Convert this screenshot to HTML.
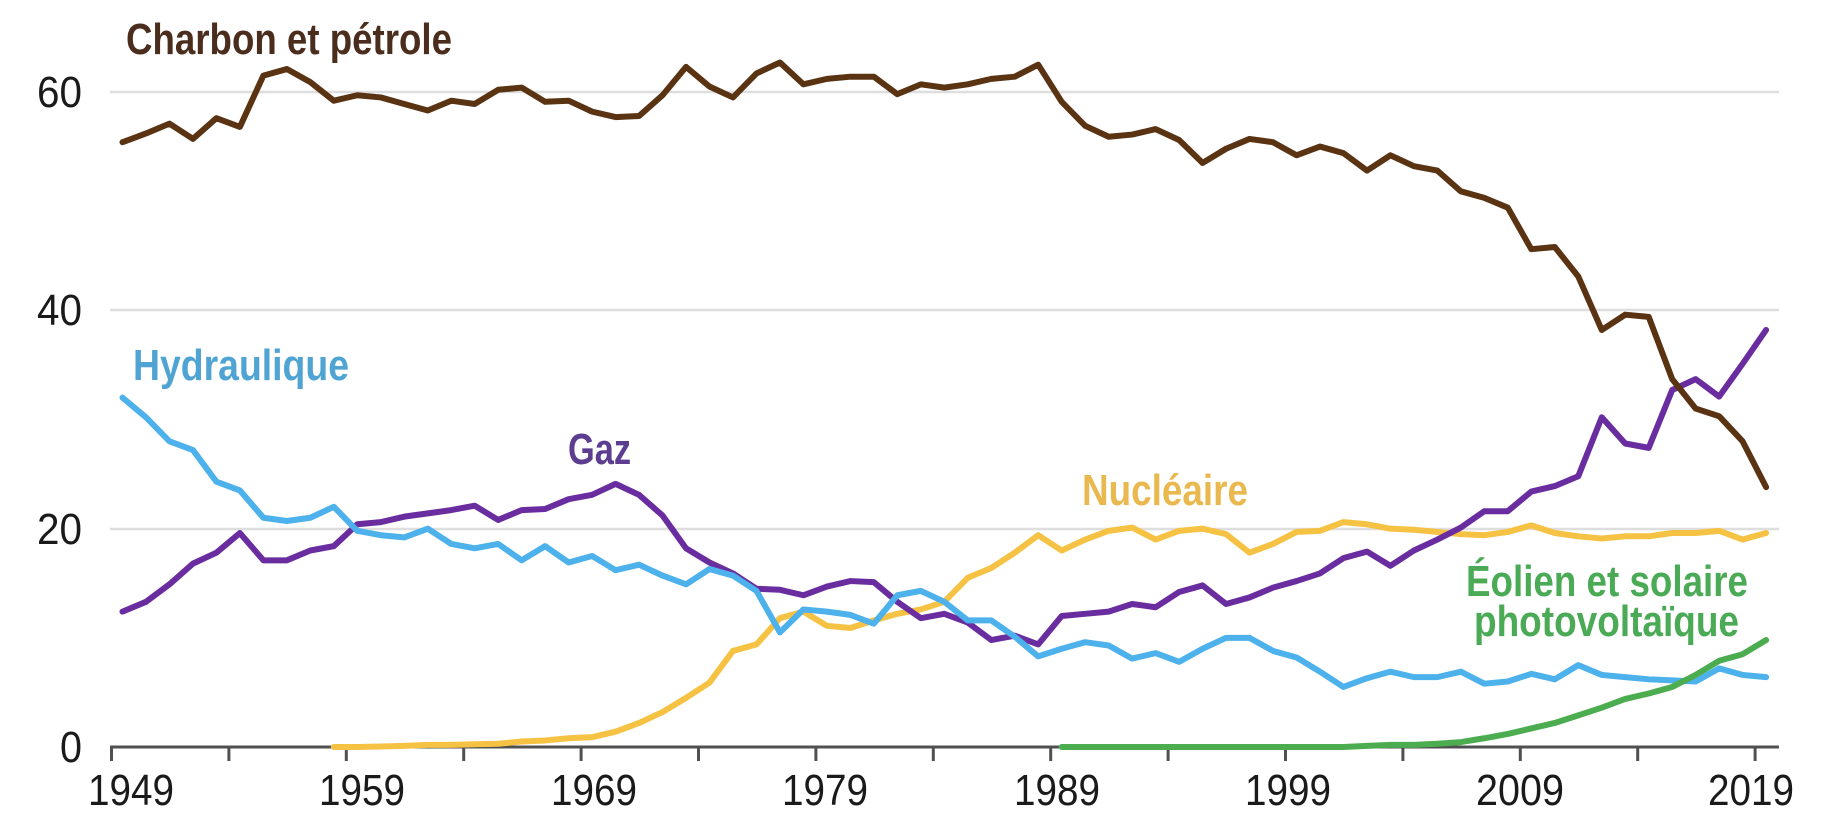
<!DOCTYPE html>
<html>
<head>
<meta charset="utf-8">
<style>
  html, body { margin: 0; padding: 0; background: #ffffff; }
  body { width: 1838px; height: 834px; overflow: hidden; }
  svg { display: block; }
  .lab { font-family: "Liberation Sans", sans-serif; font-weight: bold; font-size: 44px; }
  .ax { font-family: "Liberation Sans", sans-serif; font-size: 44px; fill: #1a1a1a; }
</style>
</head>
<body>
<svg width="1838" height="834" viewBox="0 0 1838 834" xmlns="http://www.w3.org/2000/svg">
  <rect x="0" y="0" width="1838" height="834" fill="#ffffff"/>

  <!-- gridlines -->
  <g stroke="#dedede" stroke-width="2.5">
    <line x1="110" y1="92" x2="1779" y2="92"/>
    <line x1="110" y1="310" x2="1779" y2="310"/>
    <line x1="110" y1="529" x2="1779" y2="529"/>
  </g>

  <!-- y labels -->
  <text class="ax" x="82" y="107" text-anchor="end" textLength="45" lengthAdjust="spacingAndGlyphs">60</text>
  <text class="ax" x="82" y="325" text-anchor="end" textLength="45" lengthAdjust="spacingAndGlyphs">40</text>
  <text class="ax" x="82" y="544" text-anchor="end" textLength="45" lengthAdjust="spacingAndGlyphs">20</text>
  <text class="ax" x="82" y="762" text-anchor="end" textLength="22" lengthAdjust="spacingAndGlyphs">0</text>

  <!-- x axis -->
  <line x1="110" y1="747" x2="1779" y2="747" stroke="#505050" stroke-width="3"/>
  <g stroke="#505050" stroke-width="3">
    <line x1="111.5" y1="747" x2="111.5" y2="761"/>
    <line x1="228.9" y1="747" x2="228.9" y2="761"/>
    <line x1="346.3" y1="747" x2="346.3" y2="761"/>
    <line x1="463.7" y1="747" x2="463.7" y2="761"/>
    <line x1="581.1" y1="747" x2="581.1" y2="761"/>
    <line x1="698.5" y1="747" x2="698.5" y2="761"/>
    <line x1="815.9" y1="747" x2="815.9" y2="761"/>
    <line x1="933.3" y1="747" x2="933.3" y2="761"/>
    <line x1="1050.7" y1="747" x2="1050.7" y2="761"/>
    <line x1="1168.1" y1="747" x2="1168.1" y2="761"/>
    <line x1="1285.5" y1="747" x2="1285.5" y2="761"/>
    <line x1="1402.9" y1="747" x2="1402.9" y2="761"/>
    <line x1="1520.3" y1="747" x2="1520.3" y2="761"/>
    <line x1="1637.7" y1="747" x2="1637.7" y2="761"/>
    <line x1="1755.1" y1="747" x2="1755.1" y2="761"/>
  </g>

  <!-- x labels -->
  <g class="ax" text-anchor="middle">
    <text x="131" y="805" textLength="86" lengthAdjust="spacingAndGlyphs">1949</text>
    <text x="362" y="805" textLength="86" lengthAdjust="spacingAndGlyphs">1959</text>
    <text x="594" y="805" textLength="86" lengthAdjust="spacingAndGlyphs">1969</text>
    <text x="825" y="805" textLength="86" lengthAdjust="spacingAndGlyphs">1979</text>
    <text x="1057" y="805" textLength="86" lengthAdjust="spacingAndGlyphs">1989</text>
    <text x="1288" y="805" textLength="86" lengthAdjust="spacingAndGlyphs">1999</text>
    <text x="1520" y="805" textLength="88" lengthAdjust="spacingAndGlyphs">2009</text>
    <text x="1751" y="805" textLength="86" lengthAdjust="spacingAndGlyphs">2019</text>
  </g>

  <!-- series: data coords (year index, value) -->
  <g transform="matrix(23.48 0 0 -10.917 122.5 747)" fill="none" stroke-width="6" stroke-linejoin="round" stroke-linecap="round">
    <!-- Nucléaire -->
    <polyline vector-effect="non-scaling-stroke" stroke="#f6c244" points="9,0 10,0 11,0.05 12,0.1 13,0.2 14,0.2 15,0.25 16,0.3 17,0.5 18,0.6 19,0.8 20,0.9 21,1.4 22,2.2 23,3.2 24,4.5 25,5.9 26,8.8 27,9.4 28,11.8 29,12.4 30,11.1 31,10.9 32,11.6 33,12.2 34,12.6 35,13.3 36,15.5 37,16.4 38,17.8 39,19.4 40,18.0 41,19.0 42,19.8 43,20.1 44,19.0 45,19.8 46,20.0 47,19.5 48,17.8 49,18.6 50,19.7 51,19.8 52,20.6 53,20.4 54,20.0 55,19.9 56,19.7 57,19.5 58,19.4 59,19.7 60,20.3 61,19.6 62,19.3 63,19.1 64,19.3 65,19.3 66,19.6 67,19.6 68,19.8 69,19.0 70,19.6"/>
    <!-- Gaz -->
    <polyline vector-effect="non-scaling-stroke" stroke="#6a2d9f" points="0,12.4 1,13.3 2,14.9 3,16.8 4,17.8 5,19.6 6,17.1 7,17.1 8,18.0 9,18.4 10,20.4 11,20.6 12,21.1 13,21.4 14,21.7 15,22.1 16,20.8 17,21.7 18,21.8 19,22.7 20,23.1 21,24.1 22,23.1 23,21.2 24,18.2 25,16.9 26,15.9 27,14.5 28,14.4 29,13.9 30,14.7 31,15.2 32,15.1 33,13.3 34,11.8 35,12.2 36,11.4 37,9.8 38,10.2 39,9.4 40,12.0 41,12.2 42,12.4 43,13.1 44,12.8 45,14.2 46,14.8 47,13.1 48,13.7 49,14.6 50,15.2 51,15.9 52,17.3 53,17.9 54,16.6 55,18.0 56,19.0 57,20.1 58,21.6 59,21.6 60,23.4 61,23.9 62,24.8 63,30.2 64,27.8 65,27.4 66,32.7 67,33.7 68,32.1 69,35.1 70,38.2"/>
    <!-- Hydraulique -->
    <polyline vector-effect="non-scaling-stroke" stroke="#4db1ec" points="0,32.0 1,30.2 2,28.0 3,27.2 4,24.3 5,23.5 6,21.0 7,20.7 8,21.0 9,22.0 10,19.8 11,19.4 12,19.2 13,20.0 14,18.6 15,18.2 16,18.6 17,17.1 18,18.4 19,16.9 20,17.5 21,16.2 22,16.7 23,15.7 24,14.9 25,16.3 26,15.7 27,14.3 28,10.5 29,12.6 30,12.4 31,12.1 32,11.3 33,13.9 34,14.3 35,13.3 36,11.6 37,11.6 38,10.1 39,8.3 40,9.0 41,9.6 42,9.3 43,8.1 44,8.6 45,7.8 46,9.0 47,10.0 48,10.0 49,8.8 50,8.2 51,6.9 52,5.5 53,6.3 54,6.9 55,6.4 56,6.4 57,6.9 58,5.8 59,6.0 60,6.7 61,6.2 62,7.5 63,6.6 64,6.4 65,6.2 66,6.1 67,6.0 68,7.2 69,6.6 70,6.4"/>
    <!-- Éolien et solaire -->
    <polyline vector-effect="non-scaling-stroke" stroke="#4cad50" points="40,0 41,0 42,0 43,0 44,0 45,0 46,0 47,0 48,0 49,0 50,0 51,0 52,0 53,0.1 54,0.2 55,0.2 56,0.3 57,0.45 58,0.8 59,1.2 60,1.7 61,2.2 62,2.9 63,3.6 64,4.4 65,4.9 66,5.5 67,6.6 68,7.9 69,8.5 70,9.8"/>
    <!-- Charbon et pétrole -->
    <polyline vector-effect="non-scaling-stroke" stroke="#5a3313" points="0,55.4 1,56.2 2,57.1 3,55.7 4,57.6 5,56.8 6,61.5 7,62.1 8,60.9 9,59.2 10,59.7 11,59.5 12,58.9 13,58.3 14,59.2 15,58.9 16,60.2 17,60.4 18,59.1 19,59.2 20,58.2 21,57.7 22,57.8 23,59.7 24,62.3 25,60.5 26,59.5 27,61.7 28,62.7 29,60.7 30,61.2 31,61.4 32,61.4 33,59.8 34,60.7 35,60.4 36,60.7 37,61.2 38,61.4 39,62.5 40,59.1 41,56.9 42,55.9 43,56.1 44,56.6 45,55.6 46,53.5 47,54.8 48,55.7 49,55.4 50,54.2 51,55.0 52,54.4 53,52.8 54,54.2 55,53.2 56,52.8 57,50.9 58,50.3 59,49.4 60,45.6 61,45.8 62,43.1 63,38.2 64,39.6 65,39.4 66,33.7 67,31.0 68,30.3 69,28.0 70,23.8"/>
  </g>

  <!-- series labels -->
  <text class="lab" x="126" y="54" fill="#4b2d1e" textLength="326" lengthAdjust="spacingAndGlyphs">Charbon et pétrole</text>
  <text class="lab" x="133" y="380" fill="#4fa4d3" textLength="216" lengthAdjust="spacingAndGlyphs">Hydraulique</text>
  <text class="lab" x="568" y="464" fill="#5c3d8f" textLength="63" lengthAdjust="spacingAndGlyphs">Gaz</text>
  <text class="lab" x="1082" y="505" fill="#e9b950" textLength="166" lengthAdjust="spacingAndGlyphs">Nucléaire</text>
  <text class="lab" x="1466" y="596" fill="#4aaa55" textLength="282" lengthAdjust="spacingAndGlyphs">Éolien et solaire</text>
  <text class="lab" x="1474" y="636" fill="#4aaa55" textLength="265" lengthAdjust="spacingAndGlyphs">photovoltaïque</text>
</svg>
</body>
</html>
